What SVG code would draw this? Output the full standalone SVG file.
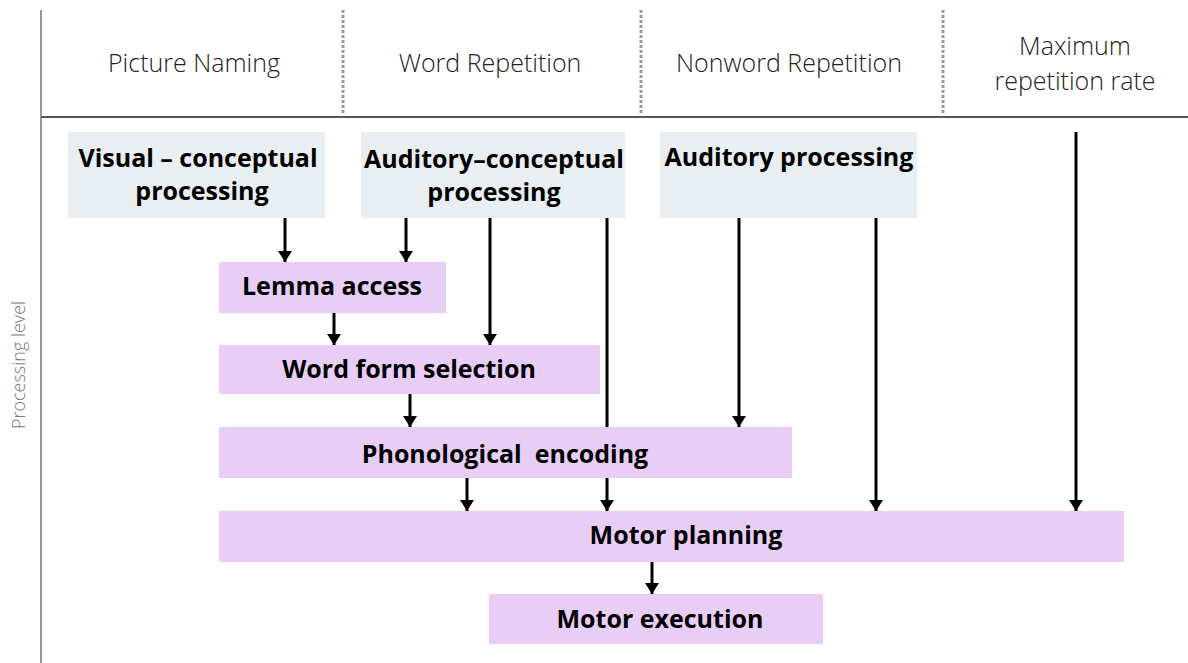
<svg xmlns="http://www.w3.org/2000/svg" width="1188" height="663" viewBox="0 0 1188 663">
<style>
.hdr{font-family:"Open Sans","Liberation Sans",sans-serif;font-weight:300;font-size:25px;fill:#222;text-anchor:middle}
.lbl{font-family:"Open Sans","Liberation Sans",sans-serif;font-weight:700;font-size:25px;fill:#000;text-anchor:middle}
.gray{fill:#E9EEF2}
.purple{fill:#E8CEF7}
.sep{stroke:#999;stroke-width:3;stroke-dasharray:3 2}
.arr{stroke:#000;stroke-width:3;fill:none}
</style>
<defs>
<marker id="ah" markerUnits="userSpaceOnUse" markerWidth="14" markerHeight="11" refX="7" refY="11" orient="0" viewBox="0 0 14 11">
<path d="M0,0 L14,0 L7,11 Z" fill="#000"/>
</marker>
</defs>
<rect width="1188" height="663" fill="#fff"/>
<g id="axes">
<line x1="41" y1="10" x2="41" y2="663" stroke="#999" stroke-width="2"/>
<line x1="41" y1="117" x2="1188" y2="117" stroke="#555" stroke-width="2"/>
<line class="sep" x1="343" y1="10" x2="343" y2="115"/>
<line class="sep" x1="641" y1="10" x2="641" y2="115"/>
<line class="sep" x1="943" y1="10" x2="943" y2="115"/>
<text x="20" y="365" transform="rotate(-90 20 365)" font-family="Open Sans, Liberation Sans, sans-serif" font-weight="300" font-size="18" fill="#777" text-anchor="middle" dominant-baseline="middle">Processing level</text>
</g>
<g id="headers">
<text class="hdr" x="194" y="72">Picture Naming</text>
<text class="hdr" x="490" y="72">Word Repetition</text>
<text class="hdr" x="789" y="72">Nonword Repetition</text>
<text class="hdr" x="1075" y="55">Maximum</text>
<text class="hdr" x="1075" y="90">repetition rate</text>
</g>
<g id="connectors">
<line class="arr" x1="607" y1="218" x2="607" y2="511" marker-end="url(#ah)"/>
<line class="arr" x1="285" y1="218" x2="285" y2="262" marker-end="url(#ah)"/>
<line class="arr" x1="406" y1="218" x2="406" y2="262" marker-end="url(#ah)"/>
<line class="arr" x1="490" y1="218" x2="490" y2="345" marker-end="url(#ah)"/>
<line class="arr" x1="334" y1="313" x2="334" y2="345" marker-end="url(#ah)"/>
<line class="arr" x1="410" y1="394" x2="410" y2="427" marker-end="url(#ah)"/>
<line class="arr" x1="739" y1="218" x2="739" y2="427" marker-end="url(#ah)"/>
<line class="arr" x1="467" y1="478" x2="467" y2="511" marker-end="url(#ah)"/>
<line class="arr" x1="876" y1="218" x2="876" y2="511" marker-end="url(#ah)"/>
<line class="arr" x1="1076" y1="132" x2="1076" y2="511" marker-end="url(#ah)"/>
<line class="arr" x1="652" y1="562" x2="652" y2="594" marker-end="url(#ah)"/>
</g>
<g id="visual-conceptual">
<rect class="gray" x="68" y="132" width="257" height="86"/>
<text class="lbl" x="198" y="167">Visual – conceptual</text>
<text class="lbl" x="202" y="200">processing</text>
</g>
<g id="auditory-conceptual">
<rect class="gray" x="361" y="132" width="264" height="86"/>
<text class="lbl" x="494" y="168">Auditory–conceptual</text>
<text class="lbl" x="494" y="201">processing</text>
</g>
<g id="auditory-processing">
<rect class="gray" x="660" y="132" width="257" height="86"/>
<text class="lbl" x="789" y="166">Auditory processing</text>
</g>
<g id="lemma-access">
<rect class="purple" x="219" y="262" width="227" height="51"/>
<text class="lbl" x="332" y="295">Lemma access</text>
</g>
<g id="word-form-selection">
<rect class="purple" x="219" y="345" width="381" height="49"/>
<text class="lbl" x="409" y="378">Word form selection</text>
</g>
<g id="phonological-encoding">
<rect class="purple" x="219" y="427" width="573" height="51"/>
<text class="lbl" x="505" y="463" xml:space="preserve">Phonological  encoding</text>
</g>
<g id="motor-planning">
<rect class="purple" x="219" y="511" width="905" height="51"/>
<text class="lbl" x="686" y="544">Motor planning</text>
</g>
<g id="motor-execution">
<rect class="purple" x="489" y="594" width="334" height="50"/>
<text class="lbl" x="660" y="628">Motor execution</text>
</g>
</svg>
